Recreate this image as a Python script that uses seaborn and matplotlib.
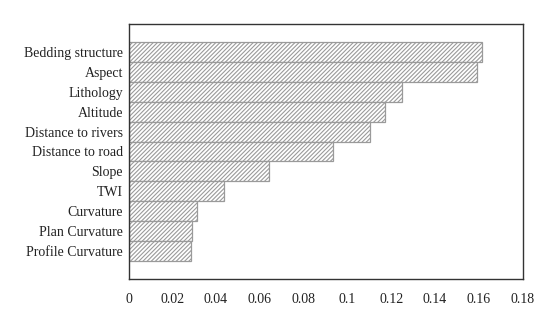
import matplotlib
matplotlib.use("Agg")
import matplotlib.pyplot as plt
import seaborn as sns
import pandas as pd

# Data
factors = ["Bedding structure", "Aspect", "Lithology", "Altitude",
           "Distance to rivers", "Distance to road", "Slope", "TWI",
           "Curvature", "Plan Curvature", "Profile Curvature"]
importance = [0.1616, 0.1593, 0.125, 0.1173, 0.1104, 0.0932,
              0.0641, 0.0435, 0.0314, 0.0291, 0.0285]
xticks = [0, 0.02, 0.04, 0.06, 0.08, 0.1, 0.12, 0.14, 0.16, 0.18]
xtick_labels = ["0", "0.02", "0.04", "0.06", "0.08", "0.1", "0.12", "0.14", "0.16", "0.18"]

df = pd.DataFrame({"factor": factors, "importance": importance})

sns.set_style("white")
plt.rcParams["font.family"] = ["Liberation Serif", "DejaVu Serif"]
plt.rcParams["hatch.linewidth"] = 0.8

fig = plt.figure(figsize=(5.5, 3.2), dpi=100)
ax = fig.add_axes([128.5 / 550, 1 - 279 / 320, 394 / 550, 255 / 320])

sns.barplot(data=df, x="importance", y="factor", orient="h", ax=ax,
            color="white", width=1.0, edgecolor="#9a9a9a", linewidth=0.9)
for p in ax.patches:
    p.set_hatch("////////")
    p.set_facecolor("white")

ax.set_xlim(0, 0.18)
ax.set_ylim(11.42, -1.42)
ax.set_xticks(xticks)
ax.set_xticklabels(xtick_labels, fontsize=10)
ax.tick_params(axis="x", direction="in", length=4, width=0.8, pad=10, colors="#444444")
ax.tick_params(axis="y", length=0, pad=4)
for lbl in ax.get_yticklabels():
    lbl.set_fontsize(10)
    lbl.set_color("#222222")
for lbl in ax.get_xticklabels():
    lbl.set_color("#222222")
ax.set_xlabel("")
ax.set_ylabel("")
for s in ax.spines.values():
    s.set_visible(True)
    s.set_color("#333333")
    s.set_linewidth(1.0)

fig.savefig("out.png", dpi=100)
